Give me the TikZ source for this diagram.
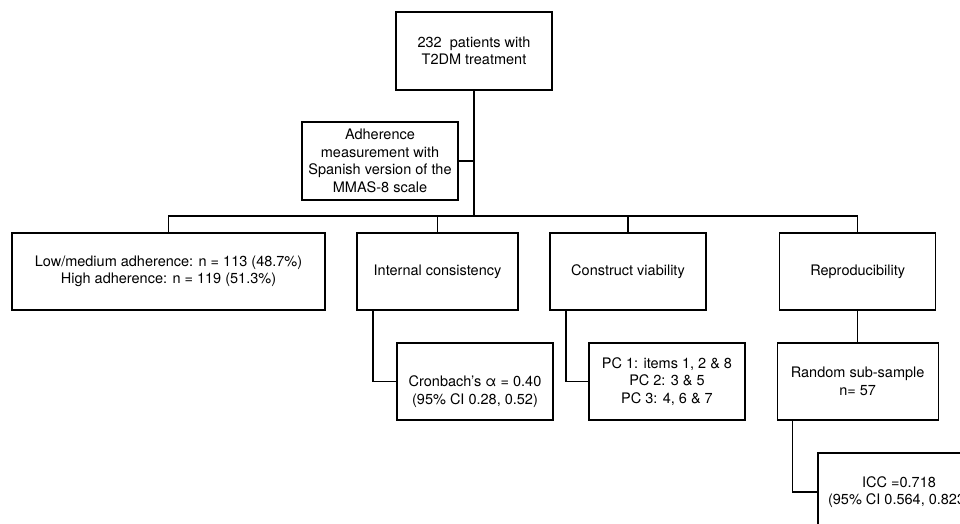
\documentclass[tikz,border=0pt]{standalone}
\usepackage{fontspec}
\setmainfont{TeX Gyre Heros}
\begin{document}
\begin{tikzpicture}[x=1pt,y=-1pt,
  box/.style={draw, line width=1.3pt, inner sep=0pt, outer sep=0pt, align=center,
    font=\fontsize{14.5}{17.5}\selectfont},
  txt/.style={inner sep=0pt, align=center, font=\fontsize{14.5}{17.5}\selectfont},
  link/.style={line width=1.2pt},
  trunk/.style={line width=2pt}]
\useasboundingbox (0,0) rectangle (960,523);
\fill[white] (0,0) rectangle (960,523);
\clip (0,0) rectangle (960,523);

\node[box, minimum width=156, minimum height=78] (top) at (474,51) {232~ patients with\\T2DM treatment};
\node[box, minimum width=156, minimum height=78] (adh) at (380,161) {Adherence\\measurement with\\Spanish version of the\\MMAS-8 scale};

\node[box, minimum width=313, minimum height=77] (b1) at (168.5,271.5) {Low/medium adherence: n = 113 (48.7\%)\\High adherence: n = 119 (51.3\%)};
\node[box, minimum width=161, minimum height=77] (b2) at (437.5,271.5) {Internal consistency};
\node[box, minimum width=156, minimum height=77] (b3) at (628,271.5) {Construct viability};
\node[box, minimum width=156, minimum height=77] (b4) at (857.7,271.5) {Reproducibility};

\node[box, minimum width=156, minimum height=77] (cron) at (475,381.5) {};
\node[txt] (crontxt) at ([yshift=-10]cron.center) {Cronbach’s α = 0.40\\(95\% CI 0.28, 0.52)};
\node[box, minimum width=156, minimum height=77] (pc) at (667,381.5) {PC 1: items 1, 2 \& 8\\PC 2: 3 \& 5\\PC 3: 4, 6 \& 7};
\node[box, minimum width=161, minimum height=77] (rnd) at (857.7,381.5) {Random sub-sample\\n= 57};
\node[box, minimum width=162, minimum height=78] (icc) at (899,492) {ICC =0.718\\(95\% CI 0.564, 0.823)};

\coordinate (bus) at (474,216);
\draw[trunk] (top.south) -- (bus);
\draw[link] (adh.east) -- (adh.east -| top.south);
\draw[link] (b1.north) |- (bus);
\draw[link] (b4.north) |- (bus);
\draw[link] (b2.north) -- (b2.north |- bus);
\draw[link] (b3.north) -- (b3.north |- bus);
\draw[link] ([xshift=16]b2.south west) |- (cron.west);
\draw[link] ([xshift=16]b3.south west) |- (pc.west);
\draw[link] (b4.south) -- (rnd.north);
\draw[link] ([xshift=15.5]rnd.south west) |- (icc.west);
\end{tikzpicture}
\end{document}
